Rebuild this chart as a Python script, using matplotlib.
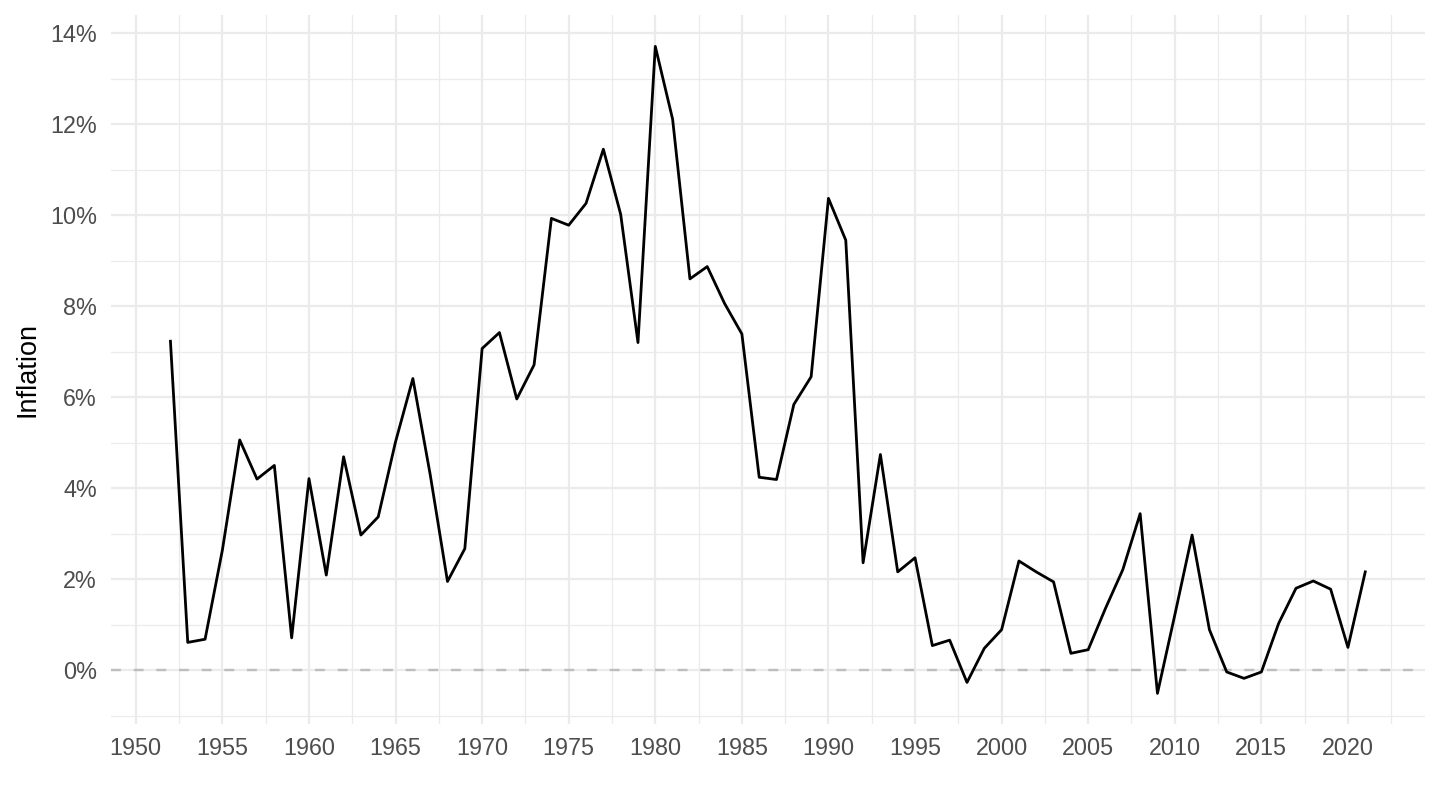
import matplotlib
matplotlib.use("Agg")
import matplotlib.pyplot as plt
from matplotlib.ticker import MultipleLocator, FuncFormatter

plt.rcParams['font.family'] = ['Liberation Sans', 'DejaVu Sans']

# annual inflation, %
years = list(range(1952, 2022))
inflation = [7.23, 0.61, 0.68, 2.64, 5.06, 4.20, 4.50, 0.71, 4.21, 2.09,
             4.69, 2.97, 3.37, 5.02, 6.41, 4.30, 1.95, 2.67, 7.07, 7.42,
             5.96, 6.71, 9.93, 9.78, 10.26, 11.45, 10.02, 7.20, 13.71, 12.11,
             8.60, 8.87, 8.06, 7.39, 4.24, 4.19, 5.84, 6.45, 10.37, 9.45,
             2.36, 4.74, 2.16, 2.47, 0.54, 0.66, -0.27, 0.48, 0.89, 2.40,
             2.16, 1.94, 0.37, 0.45, 1.36, 2.21, 3.44, -0.51, 1.21, 2.97,
             0.89, -0.04, -0.18, -0.04, 1.03, 1.80, 1.96, 1.78, 0.50, 2.16]

fig = plt.figure(figsize=(14.4, 8.1), dpi=100)
ax = fig.add_axes([110.7/1440, 1 - 724.3/810, (1425 - 110.7)/1440, (724.3 - 15)/810])

grid = '#EBEBEB'
ax.set_axisbelow(True)
ax.xaxis.set_major_locator(MultipleLocator(5))
ax.xaxis.set_minor_locator(MultipleLocator(2.5))
ax.yaxis.set_major_locator(MultipleLocator(2))
ax.yaxis.set_minor_locator(MultipleLocator(1))
ax.grid(which='major', color=grid, lw=1.6)
ax.grid(which='minor', color=grid, lw=0.9)

ax.axhline(0, color='#BEBEBE', lw=1.7, ls=(0, (4.2, 5.4)), zorder=2)
ax.plot(years, inflation, color='black', lw=2.0, zorder=3)

ax.set_xlim(1948.55, 2024.45)
ax.set_ylim(-1.19, 14.40)
ax.yaxis.set_major_formatter(FuncFormatter(lambda v, p: f"{v:.0f}%"))

for s in ax.spines.values():
    s.set_visible(False)
ax.tick_params(which='both', length=0, colors='#4D4D4D', labelsize=16.8)
ax.tick_params(axis='x', pad=9)
ax.tick_params(axis='y', pad=10)

ax.set_ylabel('Inflation', fontsize=19.5, color='black', labelpad=7)
ax.set_xlabel('')

fig.savefig('out.png', dpi=100)
